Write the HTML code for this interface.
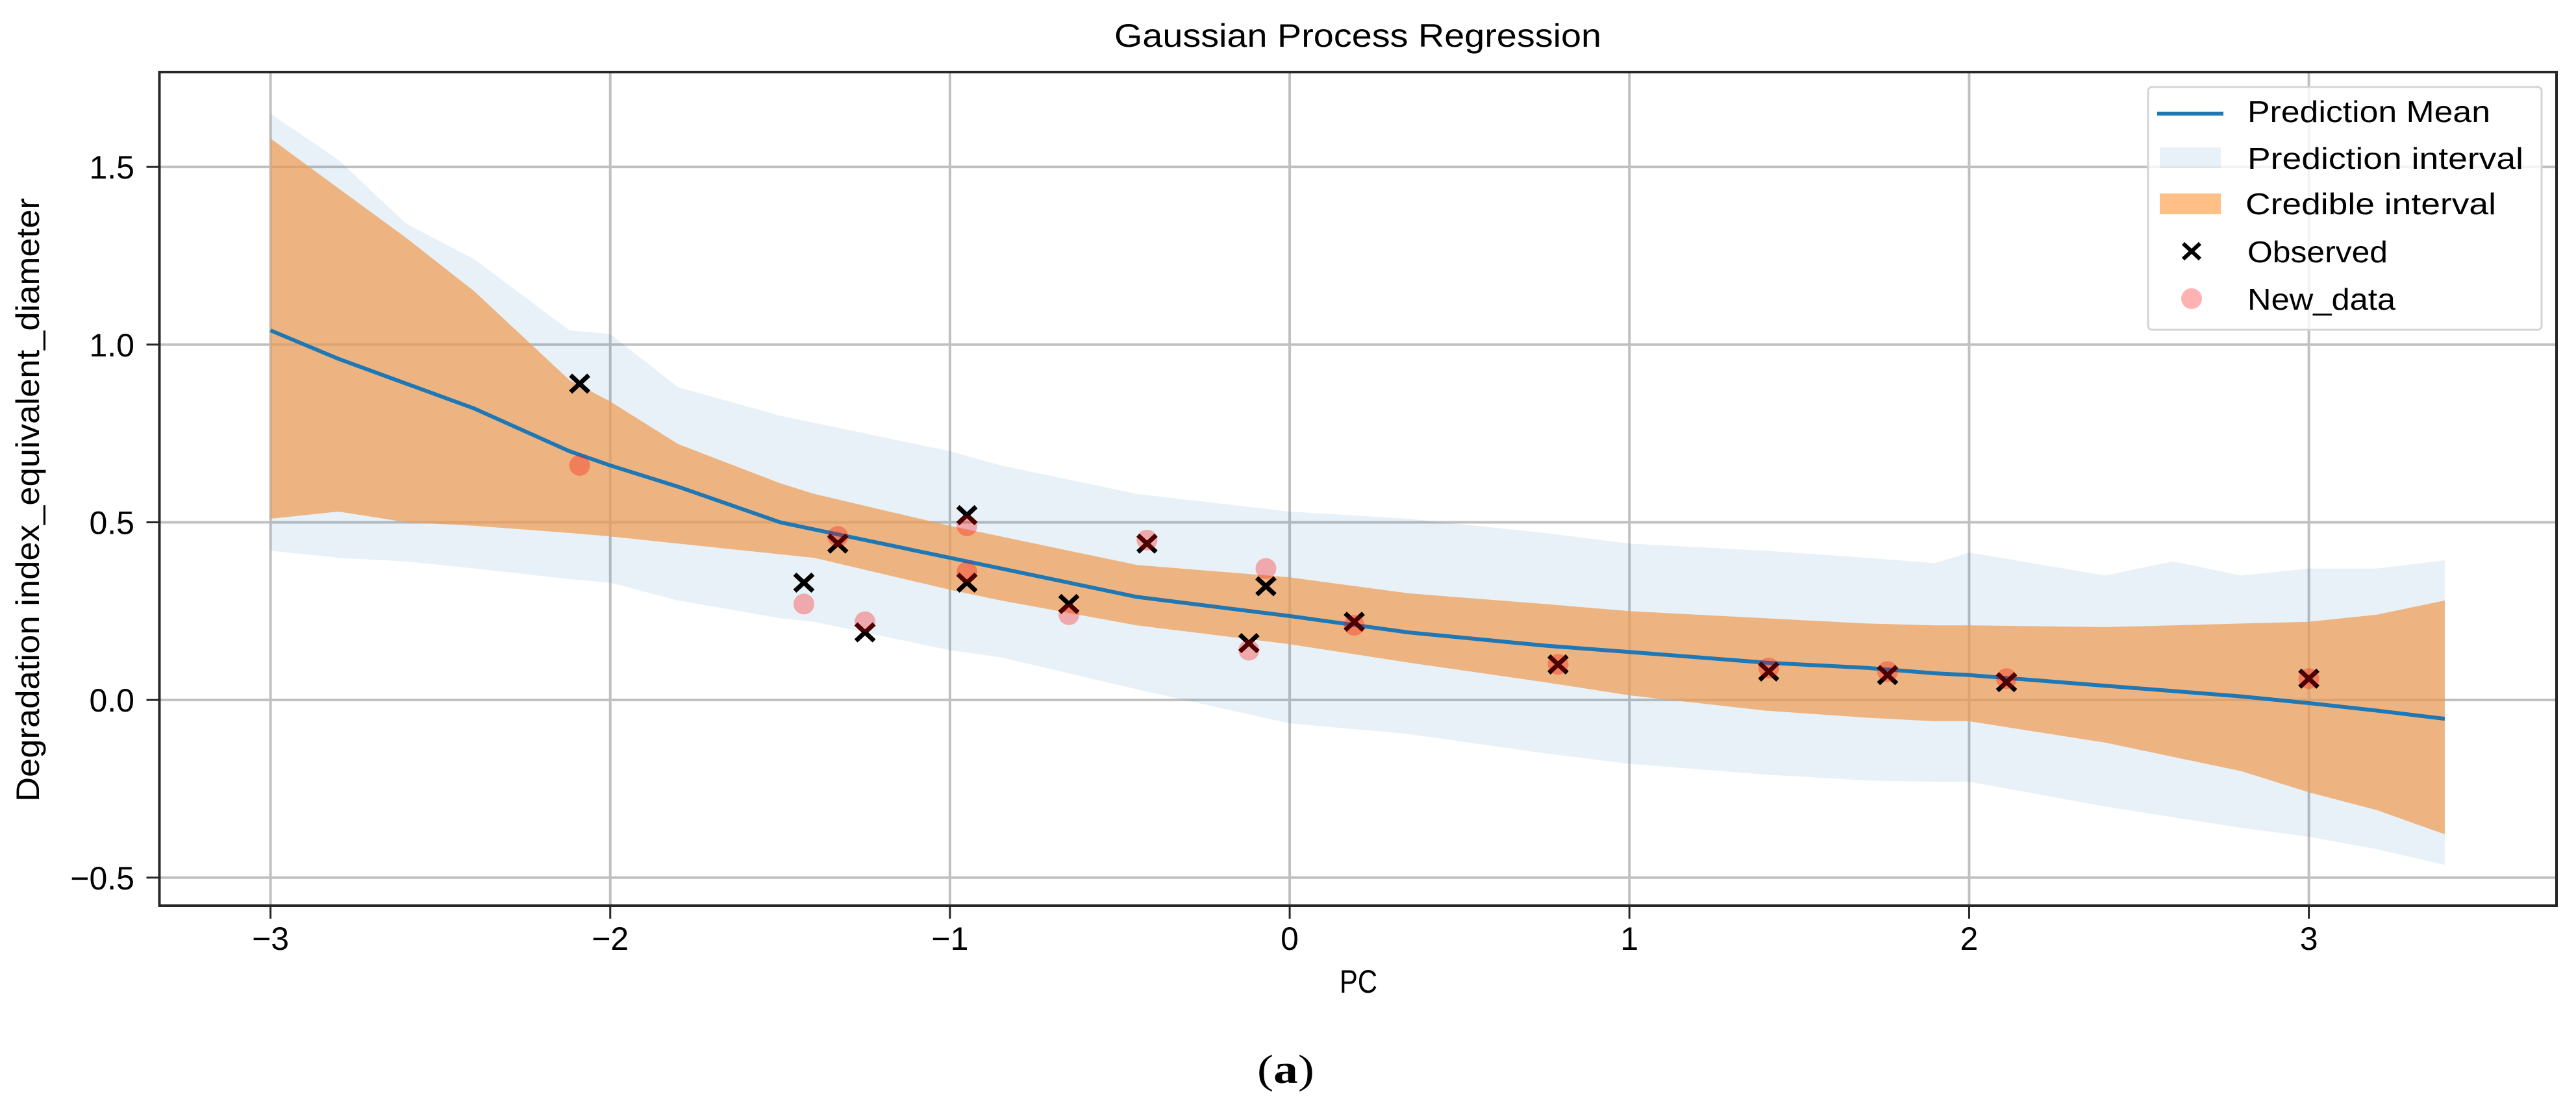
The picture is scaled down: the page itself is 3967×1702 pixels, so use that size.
<!DOCTYPE html>
<html><head><meta charset="utf-8"><style>
html,body{margin:0;padding:0;background:#fff;}
svg{display:block;}
text{font-family:"Liberation Sans","DejaVu Sans",sans-serif;fill:#000;}
</style></head><body>
<svg id="chart" width="3967" height="1702" viewBox="0 0 3967 1702" xmlns="http://www.w3.org/2000/svg">
<text x="2091" y="72" font-size="50" text-anchor="middle" textLength="750" lengthAdjust="spacingAndGlyphs">Gaussian Process Regression</text>
<g id="grid"></g>
<g id="bands"></g>
<g id="marks"></g>
<g id="axes"></g>
<text x="2092" y="1529" font-size="50" text-anchor="middle" textLength="58" lengthAdjust="spacingAndGlyphs">PC</text>
<text transform="translate(60,770) rotate(-90)" font-size="50" text-anchor="middle" textLength="930" lengthAdjust="spacingAndGlyphs">Degradation index_equivalent_diameter</text>
<text x="1980" y="1668" font-size="62" text-anchor="middle" style="font-family:'Liberation Serif',serif" textLength="88" lengthAdjust="spacingAndGlyphs">(<tspan font-weight="bold">a</tspan>)</text>
<g id="legend">
<rect x="3308" y="134" width="606" height="374" rx="6" fill="#fff" fill-opacity="0.8" stroke="#d4d4d4" stroke-width="3"/>
<g><line x1="3322" y1="175" x2="3424" y2="175" stroke="#1f77b4" stroke-width="6"/><text x="3461" y="188" font-size="46" textLength="374" lengthAdjust="spacingAndGlyphs">Prediction Mean</text></g>
<g><rect x="3326" y="227" width="94" height="32" fill="#1f77b4" fill-opacity="0.1"/><text x="3461" y="260" font-size="46" textLength="425" lengthAdjust="spacingAndGlyphs">Prediction interval</text></g>
<g><rect x="3326" y="298" width="94" height="32" fill="#ff7f0e" fill-opacity="0.5"/><text x="3458" y="330" font-size="46" textLength="386" lengthAdjust="spacingAndGlyphs">Credible interval</text></g>
<g><path d="M3362 375 L3388 399 M3388 375 L3362 399" stroke="#000" stroke-width="6"/><text x="3461" y="404" font-size="46" textLength="216" lengthAdjust="spacingAndGlyphs">Observed</text></g>
<g><circle cx="3375" cy="460" r="16" fill="#ff0000" fill-opacity="0.3"/><text x="3461" y="477" font-size="46" textLength="228" lengthAdjust="spacingAndGlyphs">New_data</text></g>
</g>
</svg>
<script>
const xTicks=[-3,-2,-1,0,1,2,3];
const yTicks=[-0.5,0,0.5,1.0,1.5];
const yTickLabels=["\u22120.5","0.0","0.5","1.0","1.5"];
const xTickLabels=["\u22123","\u22122","\u22121","0","1","2","3"];
const bandX=[-3,-2.8,-2.6,-2.4,-2.12,-2,-1.8,-1.5,-1.4,-1,-0.85,-0.45,0,0.35,0.75,1,1.4,1.7,1.9,2,2.4,2.6,2.8,3,3.2,3.4];
const meanY=[1.04,0.96,0.89,0.82,0.70,0.66,0.60,0.50,0.48,0.40,0.37,0.29,0.236,0.19,0.153,0.135,0.105,0.09,0.075,0.07,0.04,0.025,0.01,-0.009,-0.03,-0.053];
const credUpper=[1.58,1.44,1.30,1.15,0.90,0.84,0.72,0.61,0.58,0.49,0.46,0.38,0.345,0.30,0.27,0.25,0.23,0.215,0.21,0.21,0.205,0.21,0.215,0.22,0.24,0.28];
const credLower=[0.51,0.53,0.50,0.49,0.47,0.46,0.44,0.41,0.40,0.31,0.28,0.21,0.157,0.105,0.05,0.013,-0.03,-0.05,-0.06,-0.06,-0.12,-0.16,-0.20,-0.26,-0.31,-0.378];
const predUpper=[1.65,1.52,1.34,1.24,1.04,1.03,0.88,0.80,0.78,0.70,0.66,0.58,0.53,0.51,0.47,0.44,0.42,0.40,0.385,0.415,0.35,0.39,0.35,0.37,0.37,0.393];
const predLower=[0.42,0.40,0.39,0.37,0.34,0.33,0.28,0.23,0.22,0.14,0.12,0.03,-0.066,-0.096,-0.15,-0.18,-0.21,-0.227,-0.23,-0.23,-0.30,-0.33,-0.36,-0.385,-0.42,-0.464];
const obsX=[-2.09,-1.43,-1.33,-1.25,-0.95,-0.95,-0.65,-0.42,-0.12,-0.07,0.19,0.79,1.41,1.76,2.11,3.0];
const obsY=[0.89,0.33,0.44,0.19,0.52,0.33,0.27,0.44,0.16,0.32,0.22,0.10,0.08,0.07,0.05,0.06];
const newX=[-2.09,-1.43,-1.33,-1.25,-0.95,-0.95,-0.65,-0.42,-0.12,-0.07,0.19,0.79,1.41,1.76,2.11,3.0];
const newY=[0.66,0.27,0.46,0.22,0.49,0.36,0.24,0.45,0.14,0.37,0.21,0.10,0.09,0.08,0.06,0.06];

const L=245.5,R=3937,T=111,B=1395;
const xmin=-3.327,xmax=3.729,ymin=-0.579,ymax=1.767;
const sx=v=>L+(v-xmin)/(xmax-xmin)*(R-L);
const sy=v=>B-(v-ymin)/(ymax-ymin)*(B-T);
const NS="http://www.w3.org/2000/svg";
function mk(tag,parent,attrs){const e=document.createElementNS(NS,tag);for(const k in attrs)e.setAttribute(k,attrs[k]);parent.appendChild(e);return e;}
const grid=document.getElementById('grid'),bands=document.getElementById('bands'),marks=document.getElementById('marks'),axes=document.getElementById('axes');

xTicks.forEach((t,i)=>{
  const g=mk('line',grid,{x1:sx(t),x2:sx(t),y1:T,y2:B,stroke:'#c0c0c0','stroke-width':4});
  
  
  const tk=mk('line',axes,{x1:sx(t),x2:sx(t),y1:B,y2:B+20,stroke:'#262626','stroke-width':3});
  
  
  const tx=mk('text',axes,{x:sx(t),y:1463,'font-size':50,'text-anchor':'middle'});
  tx.textContent=xTickLabels[i];
  
  
});
yTicks.forEach((t,i)=>{
  const g=mk('line',grid,{x1:L,x2:R,y1:sy(t),y2:sy(t),stroke:'#c0c0c0','stroke-width':4});
  
  
  const tk=mk('line',axes,{x1:L-20,x2:L,y1:sy(t),y2:sy(t),stroke:'#262626','stroke-width':3});
  
  
  const tx=mk('text',axes,{x:207,y:sy(t)+18,'font-size':50,'text-anchor':'end'});
  tx.textContent=yTickLabels[i];
  
  
});
function bandPath(up,lo){
  let d='';
  bandX.forEach((x,i)=>{d+=(i?'L':'M')+sx(x).toFixed(1)+' '+sy(up[i]).toFixed(1)+' ';});
  for(let i=bandX.length-1;i>=0;i--)d+='L'+sx(bandX[i]).toFixed(1)+' '+sy(lo[i]).toFixed(1)+' ';
  return d+'Z';
}
const pb=mk('path',bands,{d:bandPath(predUpper,predLower),fill:'#1f77b4','fill-opacity':0.1});


const cb=mk('path',bands,{d:bandPath(credUpper,credLower),fill:'#ef9c55','fill-opacity':0.72});


let md='';bandX.forEach((x,i)=>{md+=(i?'L':'M')+sx(x).toFixed(1)+' '+sy(meanY[i]).toFixed(1)+' ';});
const ml=mk('path',bands,{d:md,fill:'none',stroke:'#1f77b4','stroke-width':6,'stroke-linejoin':'round'});


obsX.forEach((x,i)=>{
  const cx=sx(x),cy=sy(obsY[i]);
  const p=mk('path',marks,{d:`M${cx-14} ${cy-13} L${cx+14} ${cy+13} M${cx+14} ${cy-13} L${cx-14} ${cy+13}`,stroke:'#000','stroke-width':7});
  
  
});
newX.forEach((x,i)=>{
  const c=mk('circle',marks,{cx:sx(x),cy:sy(newY[i]),r:16,fill:'#ff0000','fill-opacity':0.3});
  
  
});
const fr=mk('rect',axes,{x:L,y:T,width:R-L,height:B-T,fill:'none',stroke:'#262626','stroke-width':4});


</script>
</body></html>
